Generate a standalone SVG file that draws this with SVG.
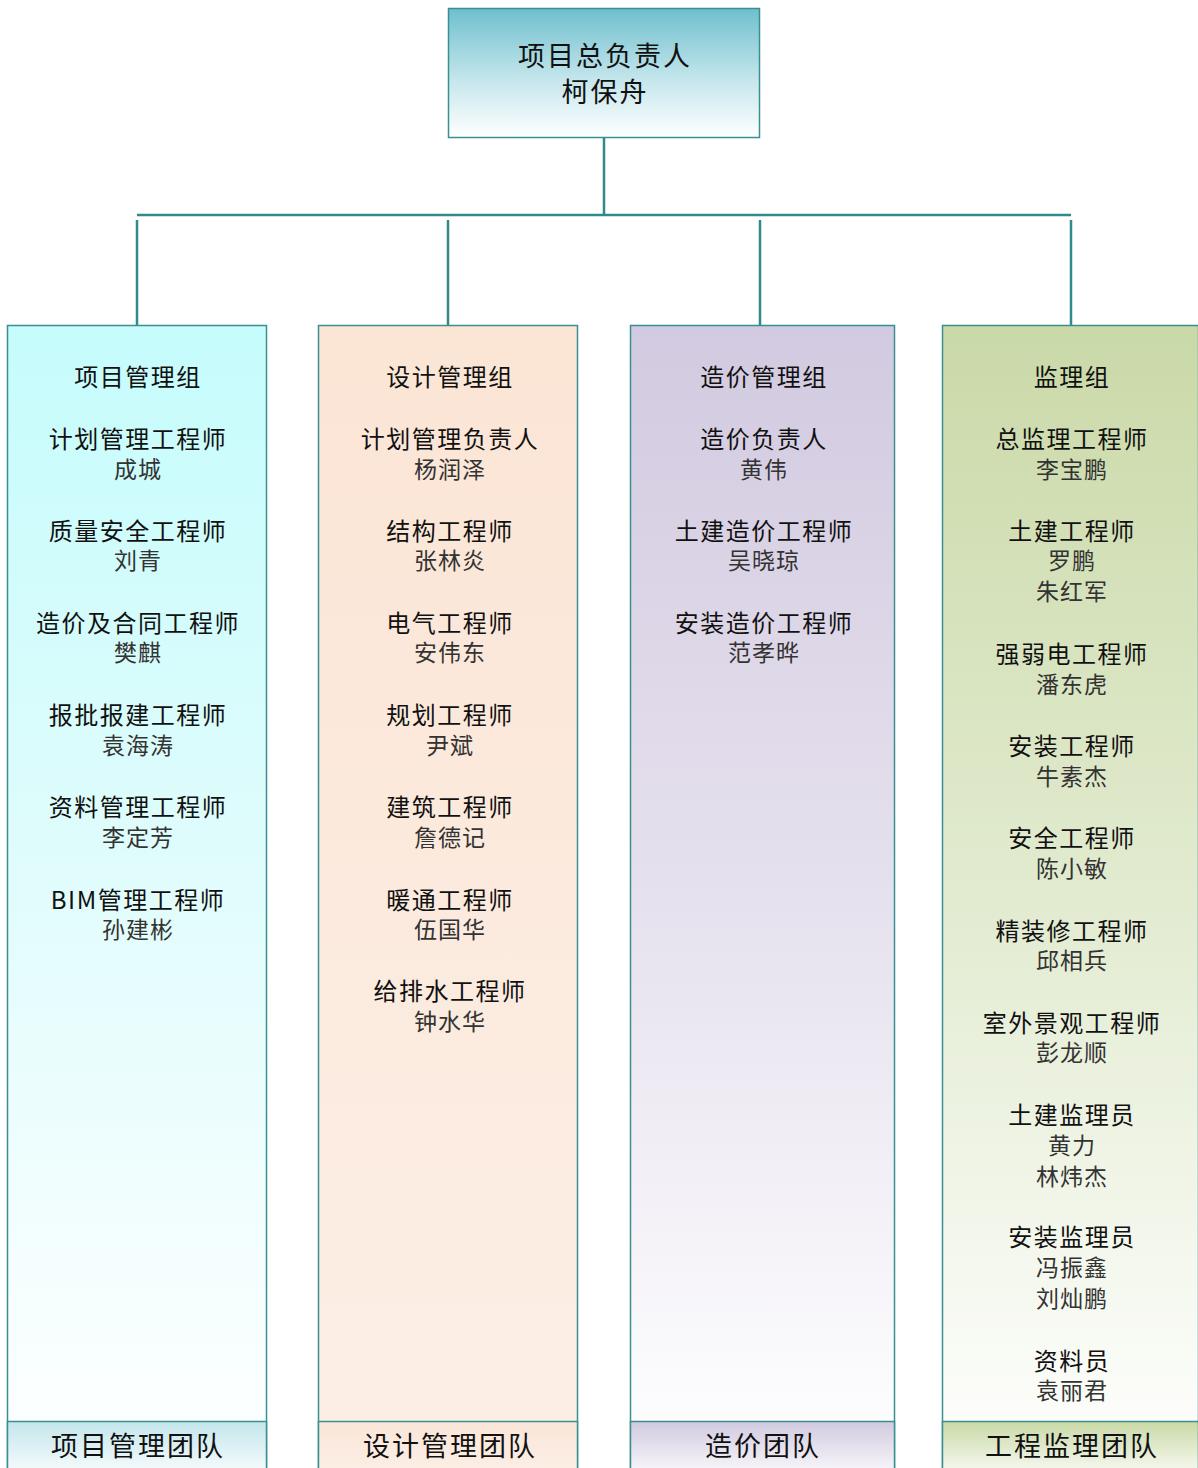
<svg xmlns="http://www.w3.org/2000/svg" width="1198" height="1468" viewBox="0 0 1198 1468">
<defs>
<linearGradient id="gTop" x1="0" y1="0" x2="0" y2="1"><stop offset="0" stop-color="#6fbfce"/><stop offset="0.55" stop-color="#c4e6ec"/><stop offset="1" stop-color="#ffffff"/></linearGradient>
<linearGradient id="g1" x1="0" y1="0" x2="0" y2="1"><stop offset="0" stop-color="#c6fcfc"/><stop offset="0.45" stop-color="#dffcfc"/><stop offset="1" stop-color="#ffffff"/></linearGradient>
<linearGradient id="g2" x1="0" y1="0" x2="0" y2="1"><stop offset="0" stop-color="#fbe5d5"/><stop offset="1" stop-color="#fcefe6"/></linearGradient>
<linearGradient id="g3" x1="0" y1="0" x2="0" y2="1"><stop offset="0" stop-color="#d2cae0"/><stop offset="0.5" stop-color="#e6e1ee"/><stop offset="1" stop-color="#ffffff"/></linearGradient>
<linearGradient id="g4" x1="0" y1="0" x2="0" y2="1"><stop offset="0" stop-color="#cad9a8"/><stop offset="0.5" stop-color="#e2ebd0"/><stop offset="1" stop-color="#ffffff"/></linearGradient>
<linearGradient id="f1" x1="0" y1="0" x2="0" y2="1"><stop offset="0" stop-color="#c3e6ec"/><stop offset="1" stop-color="#ffffff"/></linearGradient>
<linearGradient id="f2" x1="0" y1="0" x2="0" y2="1"><stop offset="0" stop-color="#fae6d8"/><stop offset="1" stop-color="#fcf0e8"/></linearGradient>
<linearGradient id="f3" x1="0" y1="0" x2="0" y2="1"><stop offset="0" stop-color="#d1cae0"/><stop offset="1" stop-color="#ffffff"/></linearGradient>
<linearGradient id="f4" x1="0" y1="0" x2="0" y2="1"><stop offset="0" stop-color="#c9d9a6"/><stop offset="1" stop-color="#ffffff"/></linearGradient>
</defs>
<style>
.box{stroke:#3a9090;stroke-width:1.5}
.ln{stroke:#2f8a8a;stroke-width:2.5;fill:none}
text{font-family:"Noto Sans CJK SC","Noto Sans",sans-serif;text-anchor:middle;dominant-baseline:central}
.t{font-size:24px;fill:#111;letter-spacing:1.5px}
.n{font-size:23px;fill:#333;letter-spacing:1px}
.h{font-size:27px;fill:#111;letter-spacing:2px}
.ft{font-size:27px;fill:#111;letter-spacing:2px}
</style>
<g id="connectors">
<path class="ln" d="M604 138V215M137 215H1071M137 220V325M448 220V325M760 220V325M1071 220V325"/>
</g>
<g id="top">
<rect class="box" x="448.5" y="8.5" width="311" height="129" fill="url(#gTop)"/>
<text class="h" x="605" y="54">项目总负责人</text>
<text class="h" x="605" y="90">柯保舟</text>
</g>
<g id="col1">
<rect class="box" x="7.5" y="325.5" width="259" height="1150" fill="url(#g1)"/>
<rect class="box" x="7.5" y="1421.5" width="259" height="60" fill="url(#f1)"/>
<text class="ft" x="138" y="1444">项目管理团队</text>
<text class="t" x="138" y="375">项目管理组</text>
<text class="t" x="138" y="437">计划管理工程师</text><text class="n" x="138" y="468">成城</text>
<text class="t" x="138" y="529">质量安全工程师</text><text class="n" x="138" y="559">刘青</text>
<text class="t" x="138" y="621">造价及合同工程师</text><text class="n" x="138" y="651">樊麒</text>
<text class="t" x="138" y="713">报批报建工程师</text><text class="n" x="138" y="744">袁海涛</text>
<text class="t" x="138" y="805">资料管理工程师</text><text class="n" x="138" y="836">李定芳</text>
<text class="t" x="138" y="898">BIM管理工程师</text><text class="n" x="138" y="928">孙建彬</text>
</g>
<g id="col2">
<rect class="box" x="318.5" y="325.5" width="259" height="1150" fill="url(#g2)"/>
<rect class="box" x="318.5" y="1421.5" width="259" height="60" fill="url(#f2)"/>
<text class="ft" x="450" y="1444">设计管理团队</text>
<text class="t" x="450" y="375">设计管理组</text>
<text class="t" x="450" y="437">计划管理负责人</text><text class="n" x="450" y="468">杨润泽</text>
<text class="t" x="450" y="529">结构工程师</text><text class="n" x="450" y="559">张林炎</text>
<text class="t" x="450" y="621">电气工程师</text><text class="n" x="450" y="651">安伟东</text>
<text class="t" x="450" y="713">规划工程师</text><text class="n" x="450" y="744">尹斌</text>
<text class="t" x="450" y="805">建筑工程师</text><text class="n" x="450" y="836">詹德记</text>
<text class="t" x="450" y="898">暖通工程师</text><text class="n" x="450" y="928">伍国华</text>
<text class="t" x="450" y="989">给排水工程师</text><text class="n" x="450" y="1020">钟水华</text>
</g>
<g id="col3">
<rect class="box" x="630.5" y="325.5" width="264" height="1150" fill="url(#g3)"/>
<rect class="box" x="630.5" y="1421.5" width="264" height="60" fill="url(#f3)"/>
<text class="ft" x="763" y="1444">造价团队</text>
<text class="t" x="764" y="375">造价管理组</text>
<text class="t" x="764" y="437">造价负责人</text><text class="n" x="764" y="468">黄伟</text>
<text class="t" x="764" y="529">土建造价工程师</text><text class="n" x="764" y="559">吴晓琼</text>
<text class="t" x="764" y="621">安装造价工程师</text><text class="n" x="764" y="651">范孝晔</text>
</g>
<g id="col4">
<rect class="box" x="942.5" y="325.5" width="256" height="1150" fill="url(#g4)"/>
<rect class="box" x="942.5" y="1421.5" width="256" height="60" fill="url(#f4)"/>
<text class="ft" x="1072" y="1444">工程监理团队</text>
<text class="t" x="1072" y="375">监理组</text>
<text class="t" x="1072" y="437">总监理工程师</text><text class="n" x="1072" y="468">李宝鹏</text>
<text class="t" x="1072" y="529">土建工程师</text><text class="n" x="1072" y="559">罗鹏</text><text class="n" x="1072" y="590">朱红军</text>
<text class="t" x="1072" y="652">强弱电工程师</text><text class="n" x="1072" y="683">潘东虎</text>
<text class="t" x="1072" y="744">安装工程师</text><text class="n" x="1072" y="775">牛素杰</text>
<text class="t" x="1072" y="836">安全工程师</text><text class="n" x="1072" y="867">陈小敏</text>
<text class="t" x="1072" y="929">精装修工程师</text><text class="n" x="1072" y="959">邱相兵</text>
<text class="t" x="1072" y="1021">室外景观工程师</text><text class="n" x="1072" y="1051">彭龙顺</text>
<text class="t" x="1072" y="1113">土建监理员</text><text class="n" x="1072" y="1144">黄力</text><text class="n" x="1072" y="1175">林炜杰</text>
<text class="t" x="1072" y="1235">安装监理员</text><text class="n" x="1072" y="1266">冯振鑫</text><text class="n" x="1072" y="1297">刘灿鹏</text>
<text class="t" x="1072" y="1359">资料员</text><text class="n" x="1072" y="1389">袁丽君</text>
</g>
</svg>
